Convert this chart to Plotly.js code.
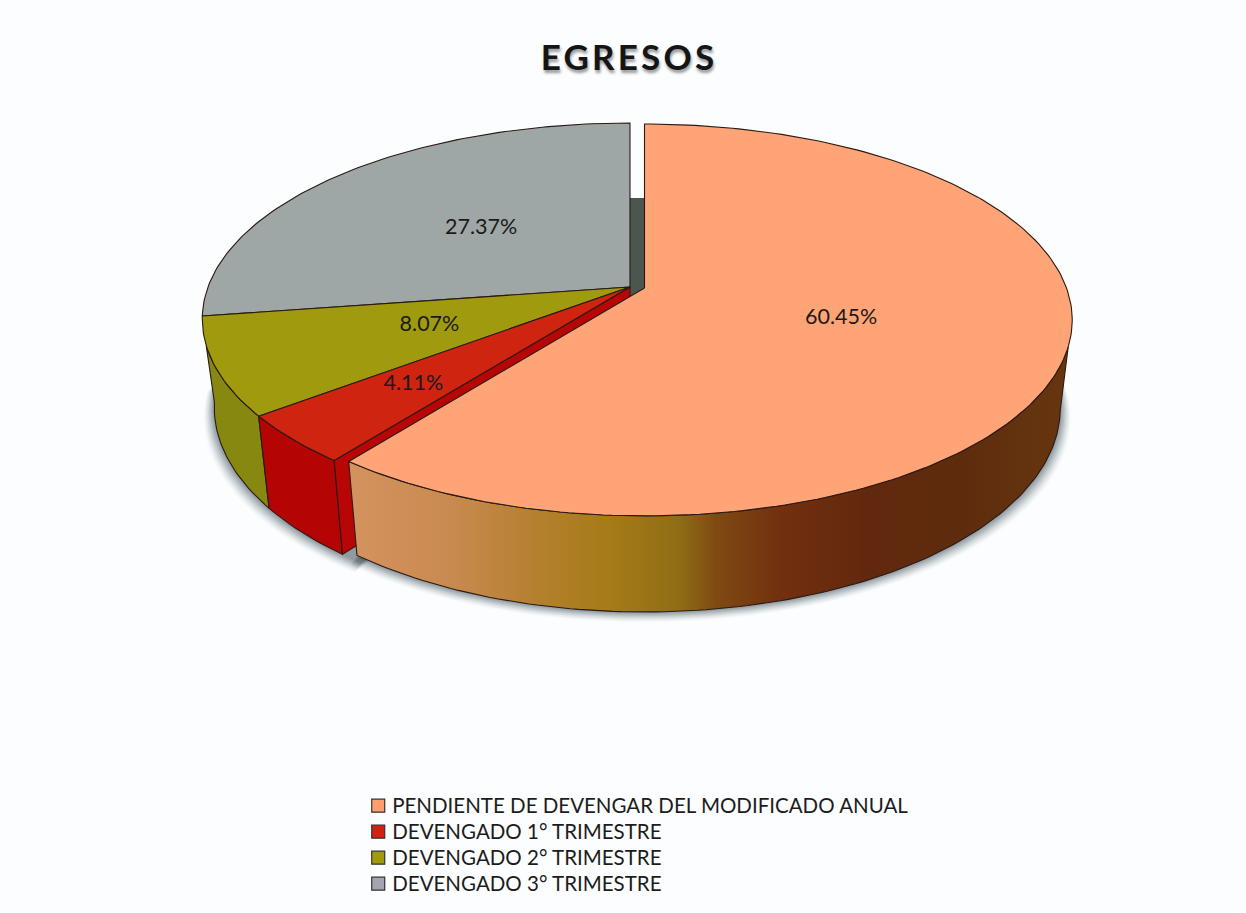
<!DOCTYPE html>
<html>
<head>
<meta charset="utf-8">
<script src="https://cdn.plot.ly/plotly-3.0.1.min.js"></script>
<style>
html,body{margin:0;padding:0;background:#fbfdfe}
.gtitle{letter-spacing:3.2px}
.legendtext{font-size:20.5px !important;transform:translateX(-6px)}
</style>
</head>
<body>
<div id="chart" style="width:1246px;height:913px"></div>
<script>
// ---- chart data ----
const categories = ["PENDIENTE DE DEVENGAR DEL MODIFICADO ANUAL", "DEVENGADO 1° TRIMESTRE", "DEVENGADO 2° TRIMESTRE", "DEVENGADO 3° TRIMESTRE"];
const values = [60.45, 4.11, 8.07, 27.37];
const chartTitle = "EGRESOS";

// ---- styles ----
const topColors = ["#FFA477", "#CF240F", "#9F9A0E", "#9FA6A6"];
const wallColors = ["#C98A50", "#B40404", "#87880F", "#8A9090"];
const swatchColors = ["#FF9F70", "#D4200F", "#A19B0C", "#A3A6B0"];
const ink = "#2a1a14";

// ---- projection of the tilted disc ----
const A = 422, B = 190.7, K = 0.163, DEPTH = 87, FX = 0.972, FY = 1.04;
const mainCentre = {x: 644.5, y: 288};
const sideCentre = {x: 630, y: 287};
const labelRadius = [0.48, 0.67, 0.50, 0.49];

function project(c, deg, r, lower) {
  const t = deg * Math.PI / 180;
  const u = r * Math.sin(t), v = -r * Math.cos(t);
  const s = 1 / (1 - K * v);
  if (!lower) return [c.x + A * u * s, c.y + B * v * s];
  return [c.x + FX * A * u * s, c.y + DEPTH + FY * B * v * s];
}
function arc(c, from, to, lower) {
  const n = Math.max(2, Math.ceil(Math.abs(to - from)));
  const pts = [];
  for (let i = 0; i <= n; i++) pts.push(project(c, from + (to - from) * i / n, 1, lower));
  return pts;
}
function poly(pts, fill, extra) {
  const closed = pts.concat([pts[0]]);
  return Object.assign({
    type: "scatter", mode: "lines", x: closed.map(p => p[0]), y: closed.map(p => p[1]),
    fill: "toself", fillcolor: fill, line: {color: ink, width: 1.1},
    hoverinfo: "skip", showlegend: false
  }, extra || {});
}

// slice angles from the values
const total = values.reduce((a, b) => a + b, 0);
const edges = [0];
values.forEach(v => edges.push(edges[edges.length - 1] + v / total * 360));
const centres = [mainCentre, sideCentre, sideCentre, sideCentre];

const traces = [];

// soft contact shadow under the walls
for (let i = 12; i >= 1; i--) {
  const grow = 1 + 0.0021 * i;
  const spread = (c, a, b) => {
    const pts = arc(c, a, b, true).map(p => [c.x + (p[0] - c.x) * grow, p[1] + i * 0.85]);
    pts.push([c.x, c.y + DEPTH]);
    return pts;
  };
  const line = {line: {width: 0, color: "rgba(0,0,0,0)"}};
  const alpha = "rgba(30,50,60," + (0.018 + 0.006 * (12 - i)).toFixed(3) + ")";
  traces.push(poly(spread(mainCentre, 85, edges[1]), alpha, line));
  traces.push(poly(spread(sideCentre, edges[1] - 3, 268), alpha, line));
}

// dark inner wall seen through the gap at twelve o'clock
traces.push(poly([
  [sideCentre.x, 198], [mainCentre.x, 198],
  [mainCentre.x, mainCentre.y], [sideCentre.x, 297]
], "#4a564e", {line: {width: 0, color: "rgba(0,0,0,0)"}}));

// olive outer wall
traces.push(poly(arc(sideCentre, edges[2], 253, false).concat(arc(sideCentre, 262, edges[2], true)), wallColors[2]));
// red outer wall
traces.push(poly(arc(sideCentre, edges[1], edges[2], false).concat(arc(sideCentre, edges[2], edges[1], true)), wallColors[1]));
// red inner wall
traces.push(poly([
  project(sideCentre, edges[1], 1, false), [sideCentre.x, sideCentre.y],
  [sideCentre.x, sideCentre.y + DEPTH], project(sideCentre, edges[1], 1, true)
], "#B80606"));
// peach outer wall with its metallic shading
traces.push(poly(arc(mainCentre, 107, edges[1], false).concat(arc(mainCentre, edges[1], 100, true)), wallColors[0], {
  fillgradient: {
    type: "horizontal",
    colorscale: [
      [0.00, "#D5925E"], [0.14, "#C98A50"], [0.26, "#B4802F"], [0.36, "#A67B18"],
      [0.46, "#8F6D15"], [0.51, "#7F4A12"], [0.60, "#72300F"], [0.72, "#62280E"],
      [0.85, "#5E2C0D"], [1.00, "#673610"]
    ]
  }
}));

// top faces: grey, olive, red, then peach in front
[3, 2, 1, 0].forEach(i => {
  const c = centres[i];
  traces.push(poly([[c.x, c.y]].concat(arc(c, edges[i], edges[i + 1], false)), topColors[i]));
});

// percentage labels
const labelPoints = values.map((v, i) => project(centres[i], (edges[i] + edges[i + 1]) / 2, labelRadius[i], false));
traces.push({
  type: "scatter", mode: "text",
  x: labelPoints.map(p => p[0]), y: labelPoints.map(p => p[1]),
  text: values.map(v => v.toFixed(2) + "%"),
  textposition: "middle center",
  textfont: {family: "Lato, sans-serif", size: 21.5, color: "#1a1a1a"},
  hoverinfo: "skip", showlegend: false
});

// legend entries
categories.forEach((name, i) => {
  traces.push({
    type: "scatter", mode: "markers", name: name, x: [null], y: [null],
    marker: {symbol: "square", size: 13, color: swatchColors[i], line: {color: "#333", width: 1.2}},
    hoverinfo: "skip", showlegend: true
  });
});

const layout = {
  width: 1246, height: 913,
  margin: {l: 0, r: 0, t: 0, b: 0},
  paper_bgcolor: "#fbfdfe", plot_bgcolor: "rgba(0,0,0,0)",
  title: {
    text: "<b>" + chartTitle + "</b>",
    x: 0.5048, xanchor: "center", y: 0.937, yanchor: "middle",
    font: {family: "Lato, sans-serif", size: 35, color: "#151515", shadow: "1px 3px 3px rgba(0,0,0,0.4)"}
  },
  xaxis: {range: [0, 1246], visible: false, fixedrange: true},
  yaxis: {range: [913, 0], visible: false, fixedrange: true},
  showlegend: true,
  legend: {
    x: 0.2875, xanchor: "left", y: 0.1373, yanchor: "top",
    bgcolor: "rgba(0,0,0,0)", itemwidth: 30, traceorder: "normal",
    font: {family: "Lato, sans-serif", size: 17.7, color: "#1c1c1c"}
  }
};
Plotly.newPlot("chart", traces, layout, {displayModeBar: false, responsive: false});
</script>
</body>
</html>
